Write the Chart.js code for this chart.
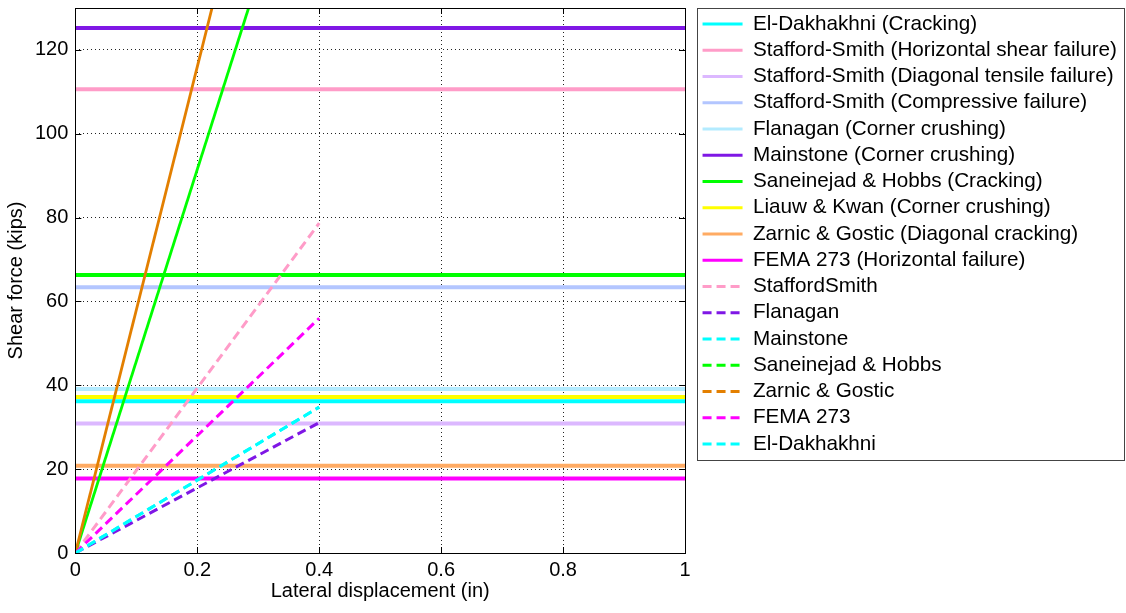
<!DOCTYPE html>
<html>
<head>
<meta charset="utf-8">
<script src="https://cdn.jsdelivr.net/npm/chart.js@4.4.1/dist/chart.umd.min.js"></script>
<style>
  html, body { margin: 0; padding: 0; background: #fff; }
  #wrap { width: 1126px; height: 613px; }
</style>
</head>
<body>
<div id="wrap"><canvas id="chart"></canvas></div>
<script>
// capacity limits (constant shear force, solid lines)
const limitLabels = [
  'El-Dakhakhni (Cracking)',
  'Stafford-Smith (Horizontal shear failure)',
  'Stafford-Smith (Diagonal tensile failure)',
  'Stafford-Smith (Compressive failure)',
  'Flanagan (Corner crushing)',
  'Mainstone (Corner crushing)',
  'Saneinejad & Hobbs (Cracking)',
  'Liauw & Kwan (Corner crushing)',
  'Zarnic & Gostic (Diagonal cracking)',
  'FEMA 273 (Horizontal failure)'
];
const limitForces = [36.2, 110.6, 30.9, 63.4, 39.1, 125.2, 66.3, 37.2, 20.8, 17.8];
const limitDisp = [0, 1];

// stiffness lines (dashed), from origin up to 0.4 in
const stiffLabels = ['StaffordSmith', 'Flanagan', 'Mainstone', 'Saneinejad & Hobbs', 'Zarnic & Gostic', 'FEMA 273', 'El-Dakhakhni'];
const stiffDisp = [0, 0.4];
const stiffForces = [78.7, 31.1, 34.8, 183, 232, 56.0, 34.8]; // force at 0.4 in

const xTicks = [0, 0.2, 0.4, 0.6, 0.8, 1];
const yTicks = [0, 20, 40, 60, 80, 100, 120];

// styles
const limitColors = ['#00ffff', '#ff9cc8', '#dcb8ff', '#b3c6ff', '#b3ebff', '#7f17e5', '#00ff00', '#ffff00', '#ffab63', '#ff00ff'];
const stiffColors = ['#ff9cc8', '#7f17e5', '#00ffff', '#00ff00', '#e37f00', '#ff00ff', '#00ffff'];
// the two steep ones look nearly solid in the plot (dense jagged dashes)
const stiffSolidLook = [false, false, false, true, true, false, false];
const FONT = "'Liberation Sans', Arial, sans-serif";
const DASH = [9, 5];

const datasets = [];
limitLabels.forEach((lab, i) => {
  datasets.push({
    label: lab,
    data: limitDisp.map(x => ({ x: x, y: limitForces[i] })),
    borderColor: limitColors[i],
    borderWidth: 4,
    pointRadius: 0,
    legendDash: []
  });
});
stiffLabels.forEach((lab, i) => {
  datasets.push({
    label: lab,
    data: [{ x: stiffDisp[0], y: 0 }, { x: stiffDisp[1], y: stiffForces[i] }],
    borderColor: stiffColors[i],
    borderWidth: stiffSolidLook[i] ? 2.8 : 3,
    borderDash: stiffSolidLook[i] ? [] : DASH,
    pointRadius: 0,
    legendDash: DASH
  });
});
// later series on top, like the original plot
datasets.forEach((d, i) => { d.order = datasets.length - i; });

// axes box with inward ticks + legend frame
const boxPlugin = {
  id: 'box',
  afterDraw(chart) {
    const ctx = chart.ctx;
    const a = chart.chartArea;
    const xs = chart.scales.x, ys = chart.scales.y;
    ctx.save();
    ctx.strokeStyle = '#000';
    ctx.lineWidth = 1;
    ctx.strokeRect(Math.round(a.left) + 0.5, Math.round(a.top) + 0.5, Math.round(a.right - a.left), Math.round(a.bottom - a.top));
    ctx.beginPath();
    xTicks.forEach(v => {
      const px = Math.round(xs.getPixelForValue(v)) + 0.5;
      ctx.moveTo(px, a.bottom); ctx.lineTo(px, a.bottom - 6);
      ctx.moveTo(px, a.top); ctx.lineTo(px, a.top + 6);
    });
    yTicks.forEach(v => {
      const py = Math.round(ys.getPixelForValue(v)) + 0.5;
      ctx.moveTo(a.left, py); ctx.lineTo(a.left + 6, py);
      ctx.moveTo(a.right, py); ctx.lineTo(a.right - 6, py);
    });
    ctx.stroke();

    const L = chart.legend;
    const hb = L.legendHitBoxes;
    const last = hb[hb.length - 1];
    const bottom = last.top + last.height + 6;
    ctx.strokeStyle = '#444';
    ctx.strokeRect(Math.round(L.left) + 0.5, Math.round(L.top) + 0.5, chart.width - 2 - Math.round(L.left), Math.round(bottom - L.top));
    ctx.restore();
  }
};

new Chart(document.getElementById('chart').getContext('2d'), {
  type: 'line',
  data: { datasets: datasets },
  plugins: [boxPlugin],
  options: {
    responsive: true,
    maintainAspectRatio: false,
    animation: false,
    layout: { padding: { left: 4, top: 8, right: 0, bottom: 2 } },
    plugins: {
      tooltip: { enabled: false },
      legend: {
        position: 'right',
        align: 'start',
        maxWidth: 429,
        labels: {
          font: { family: FONT, size: 20.7 },
          color: '#000',
          padding: 5.55,
          usePointStyle: true,
          pointStyleWidth: 40,
          generateLabels: chart => chart.data.datasets.map((d, i) => ({
            text: d.label,
            strokeStyle: d.borderColor,
            fillStyle: d.borderColor,
            lineWidth: 3,
            lineDash: d.legendDash,
            pointStyle: 'line',
            hidden: false,
            datasetIndex: i,
            fontColor: '#000'
          }))
        }
      }
    },
    scales: {
      x: {
        type: 'linear',
        min: 0,
        max: 1,
        afterBuildTicks: s => { s.ticks = xTicks.map(v => ({ value: v })); },
        ticks: { font: { family: FONT, size: 20, lineHeight: 1 }, color: '#000', padding: 7, maxRotation: 0,
          callback: v => String(v) },
        grid: { color: '#222', drawTicks: false },
        border: { display: false, dash: [1, 3] },
        title: { display: true, text: 'Lateral displacement (in)', font: { family: FONT, size: 20, lineHeight: 1 }, color: '#000',
          padding: { top: -6, bottom: 10 } }
      },
      y: {
        min: 0,
        max: 130,
        afterBuildTicks: s => { s.ticks = yTicks.map(v => ({ value: v })); },
        afterFit: s => { s.paddingTop = 0; },
        ticks: { font: { family: FONT, size: 20 }, color: '#000', padding: 7 },
        grid: { color: '#222', drawTicks: false },
        border: { display: false, dash: [1, 3] },
        title: { display: true, text: 'Shear force (kips)', font: { family: FONT, size: 20 }, color: '#000',
          padding: { top: 0, bottom: 0 } }
      },
      gap: {
        position: 'right',
        display: true,
        grid: { display: false },
        ticks: { display: false },
        border: { display: false },
        afterFit: s => { s.width = 12; s.paddingTop = 0; s.paddingBottom = 0; }
      }
    }
  }
});
</script>
</body>
</html>
